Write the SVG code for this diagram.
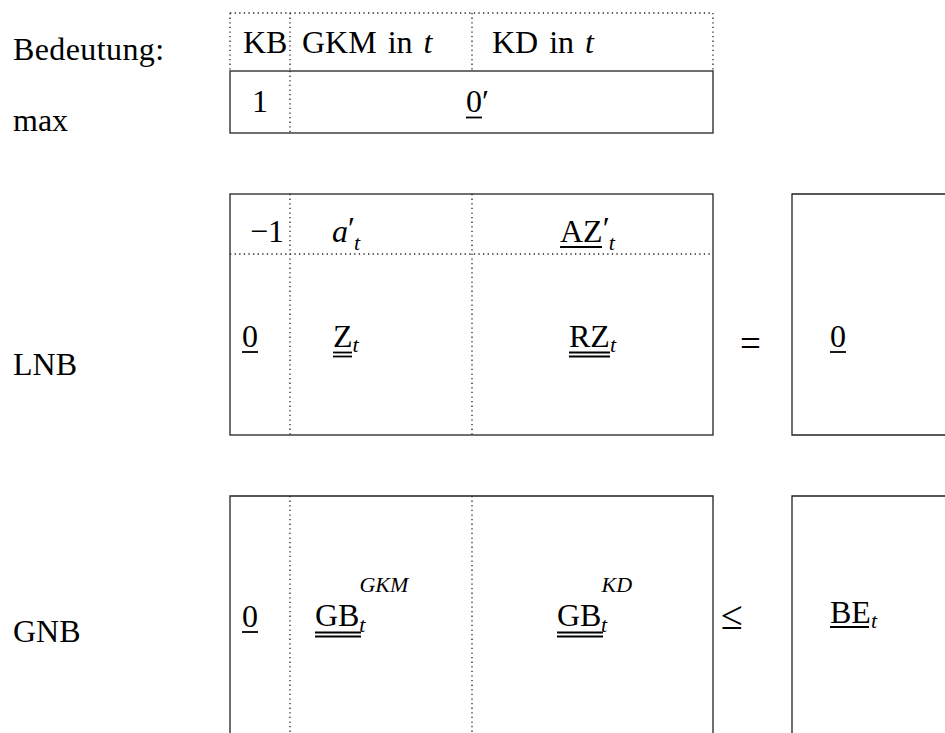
<svg xmlns="http://www.w3.org/2000/svg" width="945" height="733" viewBox="0 0 945 733">
<style>
text{font-family:"Liberation Serif","Times New Roman",serif;font-size:32px;fill:#000}
.i{font-style:italic}
.s{font-size:22px}
.solid{fill:none;stroke:#222;stroke-width:1.3}
.dot{fill:none;stroke:#222;stroke-width:1.3;stroke-dasharray:1.3 3.3}
.ul{stroke:#000;stroke-width:1.8}
</style>
<rect width="945" height="733" fill="#fff"/>
<g id="labels">
<text x="13" y="60" letter-spacing="0.4">Bedeutung:</text>
<text x="13" y="131">max</text>
<text x="13" y="375">LNB</text>
<text x="13" y="642">GNB</text>
</g>
<g id="header">
<path class="dot" d="M230,13H713V71M230,13V71M290,13V71M472,13V71"/>
<text x="243" y="53">KB</text>
<text x="302" y="53" word-spacing="3">GKM in <tspan class="i">t</tspan></text>
<text x="492" y="53" word-spacing="3">KD in <tspan class="i">t</tspan></text>
</g>
<g id="max">
<rect class="solid" x="230" y="71" width="483" height="62"/>
<path class="dot" d="M290,71V133"/>
<text x="252" y="112">1</text>
<text x="466" y="112">0′</text>
<line class="ul" x1="466" y1="117.5" x2="482" y2="117.5"/>
</g>
<g id="lnb">
<rect class="solid" x="230" y="194" width="483" height="241"/>
<path class="dot" d="M230,254H713M290,194V435M472,194V435"/>
<text x="250" y="242">−1</text>
<text x="332" y="242" class="i">a<tspan dy="-3" font-style="normal">′</tspan><tspan class="s" dx="-1" dy="11">t</tspan></text>
<text x="560" y="242">AZ<tspan dy="-3">′</tspan><tspan class="s i" dx="-1" dy="11">t</tspan></text>
<line class="ul" x1="560" y1="247" x2="602" y2="247"/>
<text x="242" y="347">0</text>
<line class="ul" x1="242" y1="352" x2="258" y2="352"/>
<text x="333" y="347">Z<tspan class="s i" dy="5">t</tspan></text>
<line class="ul" x1="333" y1="352.5" x2="352" y2="352.5"/>
<line class="ul" x1="333" y1="356.5" x2="352" y2="356.5"/>
<text x="569" y="347">RZ<tspan class="s i" dy="5">t</tspan></text>
<line class="ul" x1="569" y1="352.5" x2="610" y2="352.5"/>
<line class="ul" x1="569" y1="356.5" x2="610" y2="356.5"/>
</g>
<g id="eq">
<text x="740" y="356" style="font-size:37px">=</text>
</g>
<g id="rhs1">
<path class="solid" d="M946,194H792V435H946"/>
<text x="830" y="347">0</text>
<line class="ul" x1="830" y1="352" x2="846" y2="352"/>
</g>
<g id="gnb">
<path class="solid" d="M230,734V496H713V734"/>
<path class="dot" d="M290,496V734M472,496V734"/>
<text x="242" y="627">0</text>
<line class="ul" x1="242" y1="632" x2="258" y2="632"/>
<text x="315" y="626">GB<tspan class="s i" dy="-34">GKM</tspan><tspan class="s i" dx="-49" dy="40">t</tspan></text>
<line class="ul" x1="315" y1="632.5" x2="361" y2="632.5"/>
<line class="ul" x1="315" y1="636.5" x2="361" y2="636.5"/>
<text x="557" y="626">GB<tspan class="s i" dy="-34">KD</tspan><tspan class="s i" dx="-31" dy="40">t</tspan></text>
<line class="ul" x1="557" y1="632.5" x2="603" y2="632.5"/>
<line class="ul" x1="557" y1="636.5" x2="603" y2="636.5"/>
</g>
<g id="leq">
<text x="721" y="629" style="font-size:40px">≤</text>
</g>
<g id="rhs2">
<path class="solid" d="M946,496H792V734"/>
<text x="830" y="623">BE<tspan class="s i" dy="5">t</tspan></text>
<line class="ul" x1="830" y1="627" x2="869" y2="627"/>
</g>
</svg>
